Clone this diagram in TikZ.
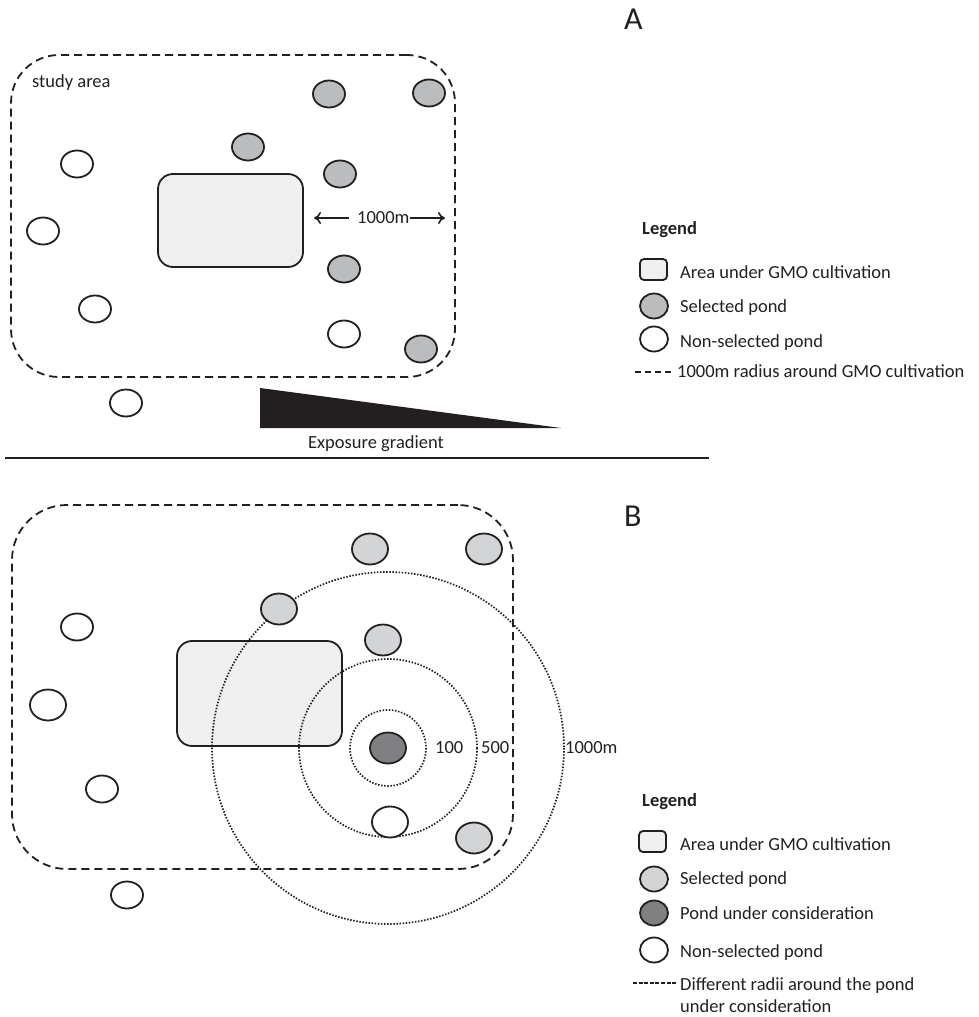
\documentclass[tikz,border=0pt]{standalone}
\usepackage{fontspec}
\setmainfont{Carlito}
\usepackage{tikz}
\usetikzlibrary{positioning,shapes.geometric,arrows,arrows.meta}
\definecolor{ink}{HTML}{231F20}
\definecolor{pondA}{HTML}{BBBCBE}
\definecolor{pondB}{HTML}{D3D4D6}
\definecolor{focal}{HTML}{808083}
\definecolor{field}{HTML}{EFEFEF}

\begin{document}
\begin{tikzpicture}[x=1pt, y=-1pt,
  every node/.style={font=\fontsize{18.5}{22}\selectfont, text=ink},
  pond/.style={ellipse, draw=ink, line width=1.8pt, fill=white, minimum width=32pt, minimum height=27pt, inner sep=0pt},
  bigpond/.style={pond, minimum width=36pt, minimum height=31pt},
  keypond/.style={pond, minimum width=28pt, minimum height=25pt},
  selA/.style={fill=pondA},
  selB/.style={fill=pondB},
  focalpond/.style={fill=focal},
  gmo/.style={draw=ink, line width=1.8pt, fill=field, rounded corners=15pt, inner sep=0pt},
  keygmo/.style={gmo, rounded corners=4pt, minimum width=27pt, minimum height=21pt},
  border/.style={draw=ink, line width=1.8pt, dash pattern=on 8pt off 5pt},
  ring/.style={draw=ink, line width=1.7pt, dash pattern=on 1.5pt off 1.6pt},
  distarrow/.style={-{To[length=7pt, width=12pt]}, line width=1.6pt, draw=ink},
  lbl/.style={anchor=base west, inner sep=0pt},
  panel/.style={lbl, font=\fontsize{32}{36}\selectfont}]
\useasboundingbox (0,0) rectangle (978,1017);

\node[panel] (labA) at (624,29) {A};
\node[border, rounded corners=48pt, minimum width=444pt, minimum height=322pt] (studyA) at (233,216) {};
\node[lbl] (studytxt) at (32,87) {study area};
\node[gmo, minimum width=145pt, minimum height=93pt] (gmoA) at (230.5,220.5) {};

\node[pond, selA] (a1) at (329,94) {};
\node[pond, selA] (a2) at (429,93) {};
\node[pond, selA] (a3) at (248,147) {};
\node[pond, selA] (a4) at (340,174) {};
\node[pond, selA] (a5) at (344,269) {};
\node[pond, selA] (a6) at (421,349) {};
\node[pond] (a7) at (77,164) {};
\node[pond] (a8) at (43,231) {};
\node[pond] (a9) at (95,309) {};
\node[pond] (a10) at (344,334) {};
\node[pond] (a11) at (126,403) {};

\node[anchor=west, inner sep=0pt] (distA) at (357,218) {1000m};
\coordinate (distL) at (314,218);
\coordinate (distR) at (445,218);
\draw[distarrow] ([xshift=-8pt]distA.west) -- (distL);
\draw[distarrow] (distA.east) -- (distR);

\fill[ink] (260,388) -- (260,428) -- (561,428) -- cycle;
\node[anchor=base, inner sep=0pt] (gradient) at (376,448) {Exposure gradient};
\draw[ink, line width=2.2pt] (5,458) -- (709,458);

\node[lbl, font=\fontsize{18.5}{22}\selectfont\bfseries] (legA) at (642,234) {Legend};
\node[keygmo] (kA1) at (653.5,269.5) {};
\node[keypond, selA] (kA2) at (654,306) {};
\node[keypond] (kA3) at (654,339) {};
\coordinate (kA4) at (635,372);
\coordinate (kA5) at (673,372);
\draw[ink, line width=1.3pt, dash pattern=on 6pt off 4pt] (kA4) -- (kA5);
\node[lbl] (tA1) at (680,278) {Area under GMO cultivation};
\node[lbl] (tA2) at (680,312) {Selected pond};
\node[lbl] (tA3) at (680,347) {Non-selected pond};
\node[lbl] (tA4) at (677,377) {1000m radius around GMO cultivation};

\node[panel] (labB) at (624,526) {B};
\node[border, rounded corners=55pt, minimum width=501pt, minimum height=364pt] (studyB) at (262.5,687) {};
\node[gmo, minimum width=165pt, minimum height=105pt] (gmoB) at (259.5,693.5) {};

\coordinate (centre) at (388,748);
\draw[ring] (centre) circle (38);
\draw[ring] (centre) circle (89);
\draw[ring] (centre) circle (176);
\node[lbl] (r1) at (435,753) {100};
\node[lbl] (r2) at (481,753) {500};
\node[lbl] (r3) at (565,753) {1000m};

\node[bigpond, selB] (b1) at (370,549) {};
\node[bigpond, selB] (b2) at (484,549) {};
\node[bigpond, selB] (b3) at (279,609) {};
\node[bigpond, selB] (b4) at (383,640) {};
\node[bigpond, selB] (b5) at (474,838) {};
\node[bigpond, focalpond] (b6) at (centre) {};
\node[bigpond] (b7) at (390,822) {};
\node[pond] (b8) at (77,627) {};
\node[bigpond] (b9) at (48,705) {};
\node[pond] (b10) at (102,789) {};
\node[pond] (b11) at (127,895) {};

\node[lbl, font=\fontsize{18.5}{22}\selectfont\bfseries] (legB) at (642,806) {Legend};
\node[keygmo] (kB1) at (652.5,841.5) {};
\node[keypond, selB] (kB2) at (654,879) {};
\node[keypond, focalpond] (kB3) at (654,913) {};
\node[keypond] (kB4) at (654,950) {};
\coordinate (kB5) at (633,983);
\coordinate (kB6) at (677,983);
\draw[ink, line width=1.3pt, dash pattern=on 4pt off 1.6pt] (kB5) -- (kB6);
\node[lbl] (tB1) at (680,850) {Area under GMO cultivation};
\node[lbl] (tB2) at (680,884) {Selected pond};
\node[lbl] (tB3) at (680,919) {Pond under consideration};
\node[lbl] (tB4) at (680,957) {Non-selected pond};
\node[lbl] (tB5) at (680,990) {Different radii around the pond};
\node[lbl] (tB6) at (680,1012) {under consideration};
\end{tikzpicture}
\end{document}
